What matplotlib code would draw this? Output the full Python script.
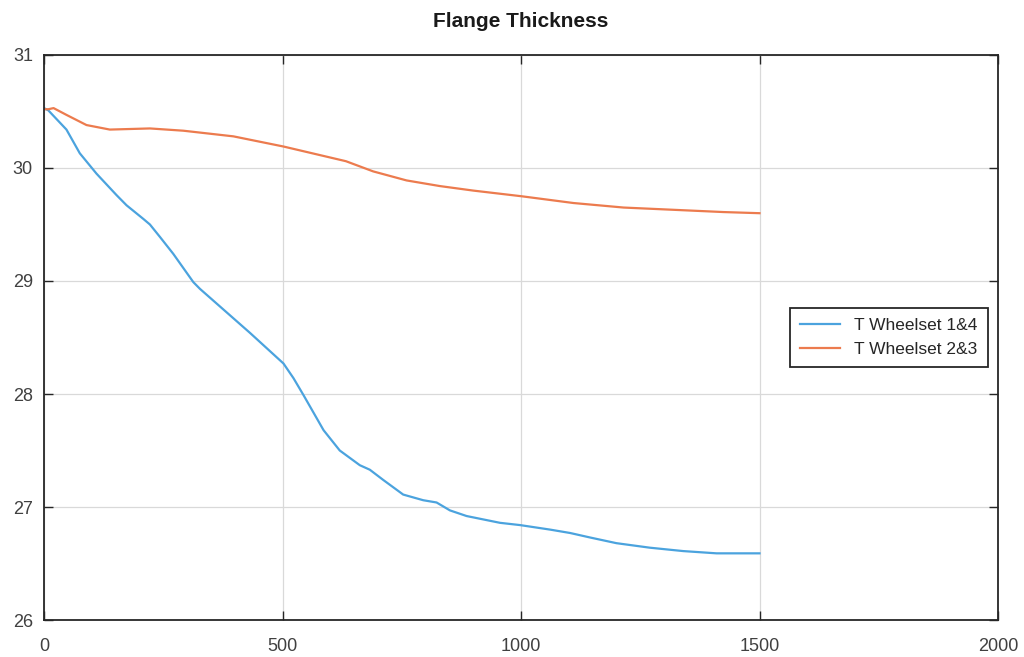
import matplotlib
matplotlib.use("Agg")
import matplotlib.pyplot as plt

# distance travelled vs flange thickness, two wheelset groups
dist_14 = [0, 9, 47, 75, 110, 152, 173, 208, 222, 243, 271, 313, 327, 397, 432,
           502, 523, 544, 586, 620, 662, 683, 711, 753, 795, 823, 851, 886, 956,
           998, 1061, 1103, 1145, 1200, 1270, 1340, 1410, 1500]
thick_14 = [30.53, 30.51, 30.34, 30.13, 29.95, 29.76, 29.67, 29.55, 29.50, 29.39,
            29.24, 28.99, 28.93, 28.67, 28.54, 28.27, 28.14, 27.99, 27.68, 27.50,
            27.37, 27.33, 27.24, 27.11, 27.06, 27.04, 26.97, 26.92, 26.86, 26.84,
            26.80, 26.77, 26.73, 26.68, 26.64, 26.61, 26.59, 26.59]

dist_23 = [0, 9, 20, 47, 89, 138, 222, 292, 397, 502, 633, 690, 760, 830, 900,
           1001, 1110, 1215, 1320, 1425, 1500]
thick_23 = [30.52, 30.52, 30.53, 30.47, 30.38, 30.34, 30.35, 30.33, 30.28, 30.19,
            30.06, 29.97, 29.89, 29.84, 29.80, 29.75, 29.69, 29.65, 29.63, 29.61,
            29.60]

labels = ["T Wheelset 1&4", "T Wheelset 2&3"]
xticks = [0, 500, 1000, 1500, 2000]
yticks = [26, 27, 28, 29, 30, 31]

plt.rcParams["font.family"] = ["Liberation Sans", "DejaVu Sans"]

fig = plt.figure(figsize=(10.24, 6.57), dpi=100)
ax = fig.add_axes([0.043, 0.0563, 0.9316, 0.86])

ax.plot(dist_14, thick_14, color="#4ba3de", linewidth=1.6, label=labels[0])
ax.plot(dist_23, thick_23, color="#ec7b4e", linewidth=1.6, label=labels[1])

ax.set_xlim(0, 2000)
ax.set_ylim(26, 31)
ax.set_xticks(xticks)
ax.set_yticks(yticks)
ax.tick_params(direction="in", length=6.5, width=1, color="#262626",
               labelcolor="#404040", labelsize=13, top=True, right=True)
ax.tick_params(axis="x", pad=13)
ax.tick_params(axis="y", pad=8)
for s in ax.spines.values():
    s.set_color("#262626")
    s.set_linewidth(1.3)
ax.grid(True, color="#d9d9d9", linewidth=0.9)

ax.set_title("Flange Thickness", fontsize=15, fontweight="bold", pad=20,
             color="#1a1a1a")

leg = ax.legend(loc="upper left", bbox_to_anchor=(0.782, 0.553), fancybox=False,
                edgecolor="#262626", fontsize=12.5, handlelength=2.3,
                borderpad=0.6, labelspacing=0.5, borderaxespad=0,
                framealpha=1)
leg.get_frame().set_linewidth(1.3)
for t in leg.get_texts():
    t.set_color("#262626")

fig.savefig("out.png", dpi=100)
